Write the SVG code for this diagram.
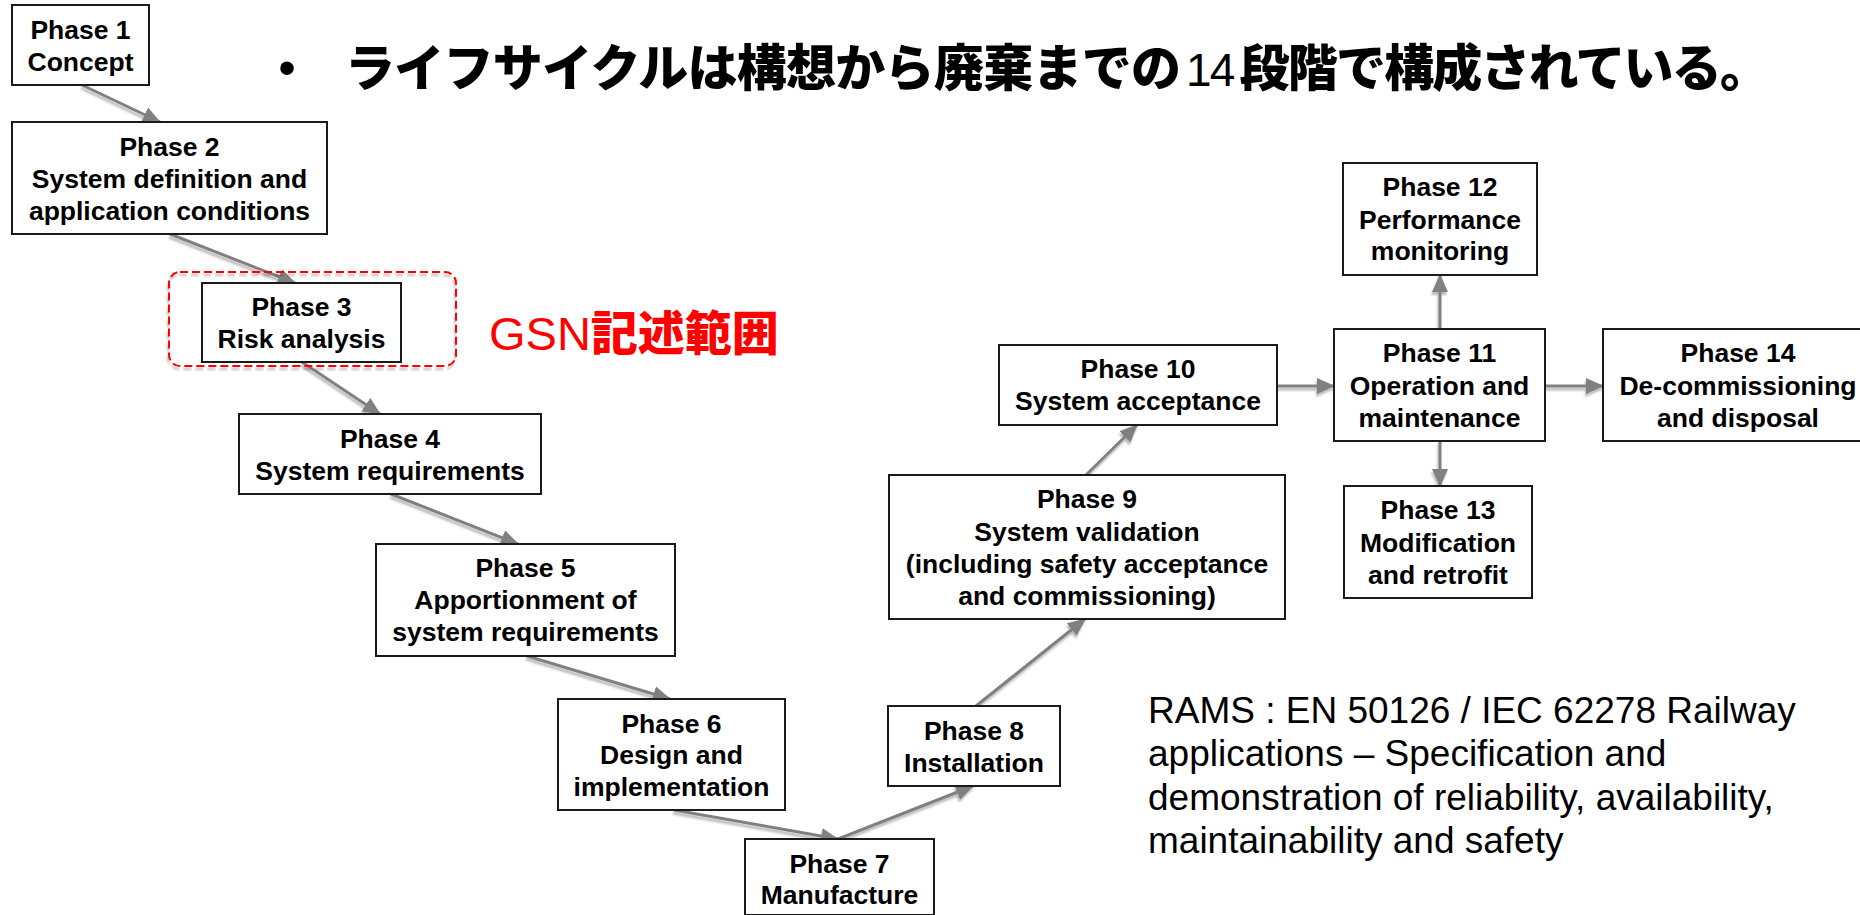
<svg xmlns="http://www.w3.org/2000/svg" width="1860" height="915" viewBox="0 0 1860 915">
<style>
.box{fill:#fff;stroke:#1a1a1a;stroke-width:2}
.lbl{font-family:"Liberation Sans",Arial,sans-serif;font-weight:bold;font-size:26.5px;fill:#000;text-anchor:middle}
.conn{stroke:#808080;stroke-width:3;fill:none;marker-end:url(#ah)}
.jp{font-family:"Noto Sans CJK JP",sans-serif;font-weight:900}
.lat{font-family:"Liberation Sans",Arial,sans-serif;font-weight:normal}
.note{font-family:"Liberation Sans",Arial,sans-serif;font-size:37px;fill:#000}
</style>
<defs>
<marker id="ah" markerUnits="userSpaceOnUse" markerWidth="20" markerHeight="18" refX="17" refY="9" orient="auto">
<path d="M0,1 L18,9 L0,17 z" fill="#808080"/>
</marker>
<filter id="sh" filterUnits="userSpaceOnUse" x="0" y="0" width="1860" height="915">
<feDropShadow dx="-1" dy="3" stdDeviation="0.9" flood-color="#000" flood-opacity="0.28"/>
</filter>
</defs>
<rect width="1860" height="915" fill="#fff"/>

<g id="title">
<text x="287" y="85" font-family="Liberation Sans,sans-serif" font-size="50" text-anchor="middle">•</text>
<text class="jp" x="345" y="86" font-size="50" textLength="836" lengthAdjust="spacing">ライフサイクルは構想から廃棄までの</text>
<text x="1186" y="86" font-size="50" textLength="584" lengthAdjust="spacing"><tspan class="lat" font-size="46">14</tspan><tspan class="jp" dx="6">段階で構成されている。</tspan></text>
</g>

<g id="connectors" filter="url(#sh)">
<line class="conn" x1="82" y1="85" x2="160" y2="122"/>
<line class="conn" x1="170" y1="234" x2="295" y2="283"/>
<line class="conn" x1="302" y1="362" x2="380" y2="414"/>
<line class="conn" x1="391" y1="494" x2="518" y2="544"/>
<line class="conn" x1="527" y1="656" x2="670" y2="699"/>
<line class="conn" x1="674" y1="810" x2="838" y2="839"/>
<line class="conn" x1="838" y1="839" x2="973" y2="786"/>
<line class="conn" x1="976" y1="706" x2="1085" y2="619"/>
<line class="conn" x1="1086" y1="475" x2="1137" y2="425"/>
<line class="conn" x1="1277" y1="386" x2="1334" y2="386"/>
<line class="conn" x1="1545" y1="386" x2="1603" y2="386"/>
<line class="conn" x1="1440" y1="329" x2="1440" y2="275"/>
<line class="conn" x1="1440" y1="441" x2="1440" y2="486"/>
</g>

<g id="gsn-scope">
<rect x="169" y="272" width="287" height="94" rx="11" fill="none" stroke="#ff0000" stroke-width="2" stroke-dasharray="8 4" filter="url(#sh)"/>
<text x="489" y="350" font-size="47" fill="#ff0000"><tspan class="lat">GSN</tspan><tspan class="jp">記述範囲</tspan></text>
</g>

<g id="phase1">
<rect class="box" x="12" y="5" width="137" height="80"/>
<text class="lbl" x="80.5" y="39">Phase 1</text>
<text class="lbl" x="80.5" y="71">Concept</text>
</g>
<g id="phase2">
<rect class="box" x="12" y="122" width="315" height="112"/>
<text class="lbl" x="169.5" y="156">Phase 2</text>
<text class="lbl" x="169.5" y="188">System definition and</text>
<text class="lbl" x="169.5" y="220">application conditions</text>
</g>
<g id="phase3">
<rect class="box" x="202" y="283" width="199" height="79"/>
<text class="lbl" x="301.5" y="316">Phase 3</text>
<text class="lbl" x="301.5" y="348">Risk analysis</text>
</g>
<g id="phase4">
<rect class="box" x="239" y="414" width="302" height="80"/>
<text class="lbl" x="390" y="448">Phase 4</text>
<text class="lbl" x="390" y="480">System requirements</text>
</g>
<g id="phase5">
<rect class="box" x="376" y="544" width="299" height="112"/>
<text class="lbl" x="525.5" y="577">Phase 5</text>
<text class="lbl" x="525.5" y="609">Apportionment of</text>
<text class="lbl" x="525.5" y="641">system requirements</text>
</g>
<g id="phase6">
<rect class="box" x="558" y="699" width="227" height="111"/>
<text class="lbl" x="671.5" y="733">Phase 6</text>
<text class="lbl" x="671.5" y="764">Design and</text>
<text class="lbl" x="671.5" y="796">implementation</text>
</g>
<g id="phase7">
<rect class="box" x="745" y="839" width="189" height="76"/>
<text class="lbl" x="839.5" y="873">Phase 7</text>
<text class="lbl" x="839.5" y="904">Manufacture</text>
</g>
<g id="phase8">
<rect class="box" x="888" y="706" width="172" height="80"/>
<text class="lbl" x="974" y="740">Phase 8</text>
<text class="lbl" x="974" y="772">Installation</text>
</g>
<g id="phase9">
<rect class="box" x="889" y="475" width="396" height="144"/>
<text class="lbl" x="1087" y="508">Phase 9</text>
<text class="lbl" x="1087" y="541">System validation</text>
<text class="lbl" x="1087" y="573">(including safety acceptance</text>
<text class="lbl" x="1087" y="605">and commissioning)</text>
</g>
<g id="phase10">
<rect class="box" x="999" y="345" width="278" height="80"/>
<text class="lbl" x="1138" y="378">Phase 10</text>
<text class="lbl" x="1138" y="410">System acceptance</text>
</g>
<g id="phase11">
<rect class="box" x="1334" y="329" width="211" height="112"/>
<text class="lbl" x="1439.5" y="362">Phase 11</text>
<text class="lbl" x="1439.5" y="395">Operation and</text>
<text class="lbl" x="1439.5" y="427">maintenance</text>
</g>
<g id="phase12">
<rect class="box" x="1343" y="163" width="194" height="112"/>
<text class="lbl" x="1440" y="196">Phase 12</text>
<text class="lbl" x="1440" y="229">Performance</text>
<text class="lbl" x="1440" y="260">monitoring</text>
</g>
<g id="phase13">
<rect class="box" x="1344" y="486" width="188" height="112"/>
<text class="lbl" x="1438" y="519">Phase 13</text>
<text class="lbl" x="1438" y="552">Modification</text>
<text class="lbl" x="1438" y="584">and retrofit</text>
</g>
<g id="phase14">
<rect class="box" x="1603" y="329" width="272" height="112"/>
<text class="lbl" x="1738" y="362">Phase 14</text>
<text class="lbl" x="1738" y="395">De-commissioning</text>
<text class="lbl" x="1738" y="427">and disposal</text>
</g>

<g id="rams-note">
<text class="note" x="1148" y="723">RAMS : EN 50126 / IEC 62278 Railway</text>
<text class="note" x="1148" y="766">applications – Specification and</text>
<text class="note" x="1148" y="810">demonstration of reliability, availability,</text>
<text class="note" x="1148" y="853">maintainability and safety</text>
</g>
</svg>
